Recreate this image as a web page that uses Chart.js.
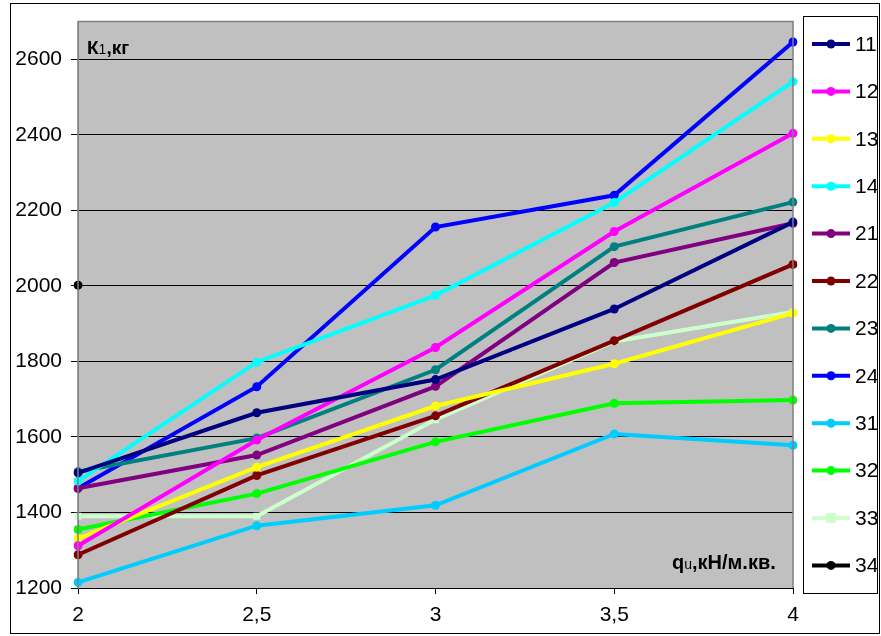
<!DOCTYPE html>
<html>
<head>
<meta charset="utf-8">
<script src="https://cdn.jsdelivr.net/npm/chart.js@4"></script>
<style>
  html, body { margin: 0; padding: 0; background: #fff; }
  #wrap { width: 881px; height: 636px; }
</style>
</head>
<body>
<div id="wrap"><canvas id="c" width="881" height="636"></canvas></div>
<script>
// Load q (x) categories and axis ticks
const categories = ['2', '2,5', '3', '3,5', '4'];
const yTicks = [1200, 1400, 1600, 1800, 2000, 2200, 2400, 2600];

// K1 values (kg) per variant
const s11 = [1505, 1664, 1752, 1939, 2169];
const s12 = [1312, 1592, 1837, 2144, 2404];
const s13 = [1331, 1520, 1682, 1794, 1928];
const s14 = [1483, 1798, 1975, 2221, 2541];
const s21 = [1464, 1552, 1734, 2062, 2166];
const s22 = [1288, 1498, 1656, 1855, 2057];
const s23 = [1508, 1597, 1778, 2104, 2222];
const s24 = [1464, 1733, 2156, 2240, 2646];
const s31 = [1215, 1365, 1419, 1608, 1578];
const s32 = [1355, 1450, 1587, 1689, 1698];
const s33 = [1390, 1390, 1646, 1853, 1931];
const s34 = [2002, null, null, null, null];

const seriesNames = ['11', '12', '13', '14', '21', '22', '23', '24', '31', '32', '33', '34'];
const seriesData = [s11, s12, s13, s14, s21, s22, s23, s24, s31, s32, s33, s34];
const seriesColors = ['#000080', '#FF00FF', '#FFFF00', '#00FFFF', '#800080', '#800000',
                      '#008080', '#0000FF', '#00CCFF', '#00FF00', '#CCFFCC', '#000000'];

const FONT = '"Liberation Sans", Arial, sans-serif';

const datasets = seriesNames.map((name, i) => ({
  label: name,
  data: seriesData[i],
  borderColor: seriesColors[i],
  backgroundColor: seriesColors[i],
  borderWidth: 4,
  pointStyle: name === '33' ? 'rect' : 'circle',
  pointRadius: name === '33' ? 5 : 4.5,
  pointBorderWidth: 0,
  pointHoverRadius: 4.5,
  tension: 0,
  fill: false,
  spanGaps: false
}));

// Frame, plot background and gray plot border
const framePlugin = {
  id: 'frame',
  beforeDraw(chart) {
    const ctx = chart.ctx;
    const a = chart.chartArea;
    ctx.save();
    ctx.fillStyle = '#ffffff';
    ctx.fillRect(0, 0, chart.width, chart.height);
    ctx.strokeStyle = '#000000';
    ctx.lineWidth = 1;
    ctx.strokeRect(10.5, 3.5, 869, 630);
    ctx.fillStyle = '#C0C0C0';
    ctx.fillRect(a.left, a.top, a.right - a.left, a.bottom - a.top);
    ctx.restore();
  },
  afterDatasetsDraw(chart) {
    const ctx = chart.ctx;
    const a = chart.chartArea;
    ctx.save();
    ctx.strokeStyle = '#808080';
    ctx.lineWidth = 1.5;
    ctx.beginPath();
    ctx.moveTo(a.left, a.bottom);
    ctx.lineTo(a.left, a.top);
    ctx.lineTo(a.right, a.top);
    ctx.lineTo(a.right, a.bottom);
    ctx.stroke();
    ctx.restore();
  }
};

// Axis captions with small index characters
function drawMixed(ctx, parts, x, y) {
  let cx = x;
  parts.forEach(p => {
    ctx.font = p.font;
    ctx.fillText(p.text, cx, y);
    cx += ctx.measureText(p.text).width;
  });
}
const captionPlugin = {
  id: 'captions',
  afterDraw(chart) {
    const ctx = chart.ctx;
    ctx.save();
    ctx.fillStyle = '#000';
    ctx.textBaseline = 'alphabetic';
    ctx.textAlign = 'left';
    drawMixed(ctx, [
      { text: 'К', font: 'bold 19px ' + FONT },
      { text: '1', font: '14px ' + FONT },
      { text: ',кг', font: 'bold 19px ' + FONT }
    ], 87, 54);
    drawMixed(ctx, [
      { text: 'q', font: 'bold 20px ' + FONT },
      { text: 'u', font: '14px ' + FONT },
      { text: ',кН/м.кв.', font: 'bold 20px ' + FONT }
    ], 672, 569);
    ctx.restore();
  }
};

// Boxed legend with line-and-marker samples
const legendPlugin = {
  id: 'boxLegend',
  afterDraw(chart) {
    const ctx = chart.ctx;
    ctx.save();
    ctx.fillStyle = '#ffffff';
    ctx.fillRect(803, 16, 74, 577);
    ctx.strokeStyle = '#000000';
    ctx.lineWidth = 1;
    ctx.strokeRect(803.5, 16.5, 74, 577);
    chart.data.datasets.forEach((ds, i) => {
      const y = 44 + i * 47.4;
      ctx.strokeStyle = ds.borderColor;
      ctx.lineWidth = 4;
      ctx.beginPath();
      ctx.moveTo(812, y);
      ctx.lineTo(850, y);
      ctx.stroke();
      ctx.fillStyle = ds.borderColor;
      if (ds.pointStyle === 'rect') {
        ctx.fillRect(826, y - 5, 10, 10);
      } else {
        ctx.beginPath();
        ctx.arc(831, y, 4.5, 0, Math.PI * 2);
        ctx.fill();
      }
      ctx.fillStyle = '#000';
      ctx.font = '21px ' + FONT;
      ctx.textBaseline = 'middle';
      ctx.textAlign = 'left';
      ctx.fillText(ds.label, 855, y + 1);
    });
    ctx.restore();
  }
};

new Chart(document.getElementById('c'), {
  type: 'line',
  data: { labels: categories, datasets },
  options: {
    responsive: false,
    animation: false,
    devicePixelRatio: 1,
    layout: { padding: { left: 12, top: 21, right: 88, bottom: 10 } },
    plugins: { legend: { display: false }, tooltip: { enabled: false } },
    scales: {
      x: {
        type: 'category',
        offset: false,
        grid: { display: true, drawOnChartArea: false, drawTicks: true, tickLength: 6, color: '#000' },
        border: { display: true, color: '#000', width: 1 },
        ticks: { color: '#000', font: { family: FONT, size: 21 }, padding: 9, maxRotation: 0 },
        afterFit(s) { s.height = 38; }
      },
      y: {
        min: 1200,
        max: 2700,
        afterBuildTicks(s) { s.ticks = yTicks.map(v => ({ value: v })); },
        grid: { color: '#000', lineWidth: 1, tickLength: 7 },
        border: { display: true, color: '#808080', width: 1 },
        ticks: { color: '#000', font: { family: FONT, size: 21 }, padding: 9,
                 callback: v => String(v) },
        afterFit(s) { s.width = 66; }
      }
    }
  },
  plugins: [framePlugin, captionPlugin, legendPlugin]
});
</script>
</body>
</html>
